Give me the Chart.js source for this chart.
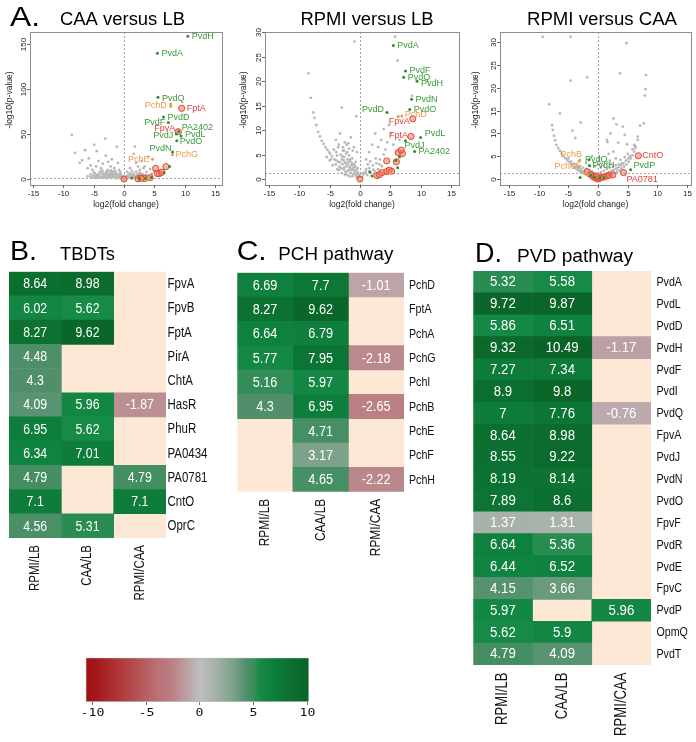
<!DOCTYPE html>
<html><head><meta charset="utf-8">
<script src="https://cdn.jsdelivr.net/npm/chart.js@4.4.1/dist/chart.umd.min.js"></script>
<style>
html,body{margin:0;padding:0;background:#fff;width:696px;height:742px;overflow:hidden;position:relative}
canvas{position:absolute}
</style></head><body>
<canvas id="v1" width="232" height="215" style="left:0;top:0"></canvas>
<canvas id="v2" width="232" height="215" style="left:232px;top:0"></canvas>
<canvas id="v3" width="232" height="215" style="left:464px;top:0"></canvas>
<canvas id="hB" width="225" height="400" style="left:0;top:230px"></canvas>
<canvas id="hC" width="235" height="400" style="left:225px;top:230px"></canvas>
<canvas id="hD" width="236" height="512" style="left:460px;top:230px"></canvas>
<canvas id="cb" width="280" height="100" style="left:60px;top:640px"></canvas>
<script>
// ================= DATA =================
// Volcano plots: [log2(fold change), -log10(p-value), optional label]
const xTicks = [-15, -10, -5, 0, 5, 10, 15];
const yTicksCaaLb = [0, 50, 100, 150];
const yTicksRpmiLb = [0, 5, 10, 15, 20, 25, 30];
const yTicksRpmiCaa = [0, 5, 10, 15, 20, 25, 30];
const sigLine = 1.3;

const caaLbGrey = [[-8.6,49],[-8.1,29],[-7.3,18],[-6.9,21],[-6.4,32],[-6.0,12],[-5.8,23],[-5.5,15],[-5.2,10],[-4.9,38],[-4.5,31],[-4.6,14],[-4.2,20],[-4.0,8],[-3.8,12],[-3.5,17],[-3.1,45],[-3.0,26],[-2.8,9],[-2.6,19],[-2.4,6],[-2.2,14],[-2.0,22],[-1.8,8],[-1.6,12],[-1.2,36],[-1.0,18],[-0.8,10],[-0.5,5],
[-6,3],[-5.5,2.5],[-5,4],[-4.6,3],[-4.3,5],[-4,2],[-3.8,6],[-3.5,3],[-3.2,4.5],[-3,2],[-2.8,6],[-2.6,3.5],[-2.4,1.5],[-2.2,4],[-2,2.5],[-1.9,7],[-1.7,3],[-1.5,1.5],[-1.4,5],[-1.2,2],[-1,3.5],[-0.8,1],[-0.6,2.5],[-0.4,0.8],[-0.2,1.5],[0.2,0.5],[0.4,2],[0.6,1],[0.8,3],[1,1.5],[1.2,4],[1.4,2],[1.6,6],[1.8,3],[2,1],[2.2,5],[2.4,2.5],[2.6,7],[2.8,3.5],[3,1.5],[3.2,4],[3.5,2],
[-3.6,1],[-3.3,1.8],[-2.9,0.8],[-2.5,2.8],[-2.1,1.2],[-1.8,4.5],[-1.3,0.7],[-0.9,2],[-0.3,3],[0.3,1.2],[0.7,4.5],[1.1,0.8],[1.5,3.2],[2.1,2.2],[2.7,1.2],[3.3,2.8],[3.8,3.5],[-5.2,1.5],[-4.8,6.5],[-4.4,1.2],[-3.9,8],[-3.4,7],[-2.7,10],[-2.3,8.5],[-1.5,9],[-0.7,6],[0.5,8],[1.0,12],[1.3,9],[1.6,28],[1.8,36],[2.0,18],[2.3,14],[2.6,10],[2.9,20],[3.2,12],[3.4,14],[3.7,8],[4.0,25],[4.3,11],[4.6,6],[5.0,9],
[-4.8,2],[-4.5,4.2],[-4.1,3.4],[-3.7,2.2],[-3.4,5.5],[-3.1,3.2],[-2.9,4.8],[-2.7,2.6],[-2.5,5],[-2.3,3],[-2.1,6],[-1.9,2],[-1.7,5.5],[-1.6,3.8],[-1.3,3],[-1.1,5],[-0.9,4],[-0.7,3.2],[-0.5,2],[-0.3,0.6],[0,0.3],[0.1,2.5],[0.5,3.5],[0.9,2.2],[1.3,5],[1.7,4],[2.3,3.8],[2.5,6],[3.1,5.5],[3.6,4.5],[-5.5,5],[-5,7],[-3.6,9.5],[-2.9,7.5],[-2.1,9.5],[-1.3,7],[-0.6,8],[0.9,6.5],[2.0,8],[2.8,5.5]];
const caaLbGreen = [[10.5,159,'PvdH'],[5.5,140,'PvdA'],[5.6,91,'PvdQ'],[6.5,69,'PvdD'],[7.3,63,'PvdF'],[8.6,50,'PvdJ'],[9.0,53,'PA2402'],[9.4,48,'PvdL'],[8.7,42.7,'PvdO'],[8.0,30,'PvdN'],[1.3,1],[3.5,0.5],[7.5,14],[6.6,7],[4.5,2],[2.5,0.5]];
const caaLbOrange = [[7.7,83.5,'PchD'],[7.7,81],[8.0,27,'PchG'],[4.7,22,'PchE'],[3,0.8],[4,1.2]];
const caaLbRed = [[9.5,78.7,'FptA'],[8.95,52.7,'FpvA'],[6.9,13.7],[5.2,11.9],[5.8,5.9],[5.5,6],[6.2,7.5],[3.4,0.5],[2.3,0.2],[0,0],[2.8,1],[4.3,1.5]];

const rpmiLbGrey = [[-8.5,21.6],[-8.1,16.6],[-7.7,13.6],[-7.5,12.5],[-7.2,11],[-6.9,9.6],[-6.6,8.7],[-6.3,7.8],[-6,7.2],[-5.7,6.5],[-5.4,6],[-5.1,5.5],[-4.9,5.2],[-4.6,4.6],[-3.0,14.6],[-3.3,9.3],[-0.6,12.8],[-0.9,28.1],[-1.9,7.3],[-4.0,8],[-3.6,6.5],[-2.6,5.8],[-2.2,7],[-1.5,8.5],[-1.0,6.5],[-0.5,5.5],
[-4.2,4],[-4,3],[-3.8,4.8],[-3.6,3.5],[-3.4,2.5],[-3.2,5],[-3,4],[-2.9,3],[-2.8,5.8],[-2.7,2],[-2.6,4.5],[-2.5,3.2],[-2.4,1.5],[-2.3,5.2],[-2.2,2.6],[-2.1,4],[-2,3],[-1.9,1.8],[-1.8,4.8],[-1.7,2.4],[-1.6,3.6],[-1.5,1.2],[-1.4,2.8],[-1.3,4.2],[-1.2,2],[-1.1,1],[-1,3],[-0.9,1.6],[-0.8,2.4],[-0.7,0.8],[-0.6,1.8],[-0.5,1],[-0.4,0.5],[-0.3,1.3],[-0.2,0.3],[-3.5,1.8],[-3,1.2],[-2.5,0.9],[-2,0.7],[-1.6,0.5],[-4.5,2.8],[-5,3.8],[-5.5,4.5],
[0.3,0.4],[0.6,0.9],[0.9,1.5],[1.2,0.8],[1.5,2.2],[1.8,1.2],[2.1,2.8],[2.4,1.6],[2.7,3.2],[3,2],[3.3,4],[3.6,2.6],[3.9,5],[2.5,9.3],[3.9,10.2],[5.1,9.3],[4.5,7.5],[4.2,6],[3,6.5],[5.5,7],[6,5.5],[6.5,8],[6.2,24.2],[5.8,29.1],[8.6,17],[1.0,4],[1.5,5.5],[2,7],[4.8,11],[3.5,8],
[-3.9,5.5],[-3.7,2],[-3.3,3.4],[-3.1,2.2],[-2.9,4.6],[-2.7,3.8],[-2.6,2.3],[-2.4,3.4],[-2.3,1],[-2.1,5.5],[-2,1.6],[-1.9,3.4],[-1.7,4],[-1.6,2.1],[-1.4,1.8],[-1.3,3.2],[-1.2,0.6],[-1.1,2.3],[-0.9,2.8],[-0.8,1.2],[-0.7,3.5],[-0.6,0.4],[-0.4,2.2],[-0.3,0.2],[-0.1,0.8],[-2.8,6.5],[-3.5,7],[-2.5,7.5],[-1.8,6.2],[-1.2,5.8],[-4.3,6],[-3.9,3.8],[-4.8,4],[1,2],[1.3,3],[2.2,1.9],[2.6,4.2],[1.7,3.6],[3.2,3],[0.5,1.2]];
const rpmiLbGreen = [[5.5,27.3,'PvdA'],[7.5,22.1,'PvdF'],[7.2,20.8,'PvdQ'],[9.4,20,'PvdH'],[8.5,16.3,'PvdN'],[8.2,14.2,'PvdO'],[4.45,13.6,'PvdD'],[10,8.5,'PvdL'],[7.5,7.8,'PvdJ'],[9.0,5.6,'PA2402'],[1.6,1.5],[6.2,2.3],[5.9,3.8],[2.0,0.6],[6.5,4.5]];
const rpmiLbOrange = [[6.9,12.9,'PchD'],[6.3,12.8],[5,1.2]];
const rpmiLbRed = [[8.7,12.3,'FpvA'],[8.4,8.7,'FptA'],[6.3,5.4],[7.0,5.2],[6.0,3.5],[4.4,3.7],[3.6,1.3],[4.4,1.5],[5.2,1.6],[2.8,0.7],[3.2,0.9],[4.8,1.8],[0,0],[6.8,5.9]];

const rpmiCaaGrey = [[-9.3,31.2],[-4.6,31.2],[4.8,29.8],[3.7,23.2],[8.1,22.8],[-4.6,21.6],[-1.8,22.3],[8.0,19.7],[7.9,18.3],[-8.2,16.4],[-6.4,14.4],[-7.7,11.8],[-7.6,10.8],[-4.3,10.6],[-2.9,12.4],[2.6,13.3],[3.1,12],[4.2,11.5],[7.1,11.7],[7.7,12.2],[2.1,10],[4.5,9.7],[1.5,8.6],[3.4,8.0],[1.6,8.1],[4.9,7.6],[6.7,9.3],[6.7,8.6],[6.3,7.2],[-3.8,9],[-7.4,9.5],[-7.2,8.5],[-7,7.5],[-6.7,6.8],[-6.4,6.2],[-6.1,5.6],[-5.8,5],[-5.5,4.6],[-5.2,4.2],[-4.9,3.8],[-4.6,3.4],
[-4.3,3],[-4,2.6],[-3.7,2.3],[-3.4,2],[-3.1,1.7],[-2.8,1.5],[-2.5,1.3],[-2.2,1.1],[-1.9,0.9],[-1.6,0.7],[-1.3,0.5],[-1,0.4],[-0.7,0.3],[-0.4,0.2],[0.4,0.2],[0.8,0.35],[1.2,0.5],[1.6,0.7],[2,0.9],[2.4,1.1],[2.8,1.3],[3.2,1.6],[3.6,1.9],[4,2.3],[4.4,2.7],[4.8,3.2],[5.2,3.8],[5.5,4.5],[5.8,5.2],[6.1,6],[6.3,6.8],[-3.5,3.2],[-3,2.8],[-2.5,2.5],[-2,2.2],[-1.5,1.9],[-1,1.6],[-0.5,1.3],[0,1.1],[0.5,1.5],[1,1.8],[1.5,2.2],[2,2.5],[2.5,2.7],[3,3],[3.5,3.2],[4,3.5],[1,3],[2,4],[3,4.5],[0.5,2.5],[-0.5,2.8],[-2,3.5],[-3,4.2],[4.5,4.8],[5,5.5],[0.2,4.5],[1.8,5.5],[-1,5],[2.6,6],[5.8,6.5],[6.1,7.5],
[-5,4.5],[-4.5,3.8],[-4,3.3],[-3.6,2.8],[-3.3,2.4],[-2.9,2.1],[-2.6,1.8],[-2.3,1.6],[-1.9,1.4],[-1.6,1.2],[-1.2,1.0],[-0.9,0.8],[-0.6,0.6],[-0.3,0.5],[0.3,0.6],[0.7,0.8],[1.1,1.0],[1.5,1.3],[1.9,1.5],[2.3,1.8],[2.7,2],[3.1,2.3],[3.5,2.6],[3.9,3],[4.3,3.4],[4.7,4],[5.1,4.5],[5.4,5],[-1.5,3],[0.5,3.5],[2.2,3.3],[3.8,4.2]];
const rpmiCaaGreen = [[-1.5,4.2,'PvdQ'],[-1.4,2.9,'PvdH'],[5.5,2.0,'PvdP'],[-3,0.3],[-1.2,0.8],[-0.6,0.4],[0.3,0.2],[1.0,0.3]];
const rpmiCaaOrange = [[-3.2,3.9,'PchB'],[-3.2,2.7,'PchG'],[-2.2,1.2],[-1.7,0.9]];
const rpmiCaaRed = [[6.8,5.1,'CntO'],[4.3,1.4,'PA0781'],[-1.2,1.0],[-0.8,0.5],[-0.4,0.2],[0,0],[0.2,0.1],[0.5,0.3],[0.9,0.4],[1.4,0.6],[1.9,0.8],[2.5,0.9],[-1.8,1.6],[-0.2,0.6]];

// Heatmaps: log2 fold change
const comparisons = ['RPMI/LB', 'CAA/LB', 'RPMI/CAA'];

const tbdtGenes = ['FpvA','FpvB','FptA','PirA','ChtA','HasR','PhuR','PA0434','PA0781','CntO','OprC'];
const tbdtRpmiLb = [8.64, 6.02, 8.27, 4.48, 4.3, 4.09, 6.95, 6.34, 4.79, 7.1, 4.56];
const tbdtCaaLb  = [8.98, 5.62, 9.62, null, null, 5.96, 5.62, 7.01, null, null, 5.31];
const tbdtRpmiCaa = [null, null, null, null, null, -1.87, null, null, 4.79, 7.1, null];

const pchGenes = ['PchD','FptA','PchA','PchG','PchI','PchB','PchE','PchF','PchH'];
const pchRpmiLb = [6.69, 8.27, 6.64, 5.77, 5.16, 4.3, null, null, null];
const pchCaaLb  = [7.7, 9.62, 6.79, 7.95, 5.97, 6.95, 4.71, 3.17, 4.65];
const pchRpmiCaa = [-1.01, null, null, -2.18, null, -2.65, null, null, -2.22];

const pvdGenes = ['PvdA','PvdL','PvdD','PvdH','PvdF','PvdI','PvdQ','FpvA','PvdJ','PvdN','PvdO','FpvF','PvdR','PvdE','FpvC','PvdP','OpmQ','PvdT'];
const pvdRpmiLb = [5.32, 9.72, 5.86, 9.32, 7.27, 8.9, 7, 8.64, 8.55, 8.19, 7.89, 1.37, 6.64, 6.44, 4.15, 5.97, 5.62, 4.79];
const pvdCaaLb  = [5.58, 9.87, 6.51, 10.49, 7.34, 9.8, 7.76, 8.98, 9.22, 8.14, 8.6, 1.31, 5.36, 6.52, 3.66, null, 5.9, 4.09];
const pvdRpmiCaa = [null, null, null, -1.17, null, null, -0.76, null, null, null, null, null, null, null, null, 5.96, null, null];

const colorbarRange = [-10.6, 10.2];
const colorbarTicks = [-10, -5, 0, 5, 10];

// ================= STYLE / HELPERS =================
Chart.defaults.animation = false;
const SANS = '"Liberation Sans", Arial, Helvetica, sans-serif';
const NARROW_FAM = '"Liberation Sans Narrow", "Arial Narrow", sans-serif';
const HAS_NARROW = (() => {
  const c = document.createElement('canvas').getContext('2d');
  const s = 'PvdA 8.64 RPMI/LB';
  c.font = '20px "Liberation Sans Narrow", monospace'; const a = c.measureText(s).width;
  c.font = '20px monospace'; const b = c.measureText(s).width;
  c.font = '20px "Liberation Sans Narrow", serif'; const d = c.measureText(s).width;
  c.font = '20px serif'; const e = c.measureText(s).width;
  return Math.abs(a - b) > 0.5 && Math.abs(d - e) > 0.5;
})();

function txt(ctx, s, x, y, o) {
  ctx.save();
  ctx.translate(x, y);
  if (o.rot) ctx.rotate(o.rot);
  let sx = o.sx || 1;
  let fam = SANS;
  if (o.narrow) { if (HAS_NARROW) fam = NARROW_FAM; else sx *= 0.82; }
  ctx.font = o.size + 'px ' + fam;
  if (o.width) sx = o.width / ctx.measureText(s).width;
  ctx.scale(sx, 1);
  ctx.textAlign = o.align || 'left';
  ctx.textBaseline = o.base || 'alphabetic';
  ctx.fillStyle = o.color || '#000';
  ctx.fillText(s, 0, 0);
  ctx.restore();
}

const STOPS = [
  [-10, [163, 18, 22]], [-7, [178, 62, 64]], [-4, [186, 112, 116]], [-2.5, [186, 130, 134]],
  [-1, [188, 164, 167]], [0, [190, 190, 190]], [1.4, [168, 178, 170]], [3.2, [123, 162, 137]],
  [4.3, [81, 143, 107]], [5.0, [62, 142, 94]], [5.6, [22, 138, 71]], [6.5, [15, 130, 63]],
  [8, [12, 116, 52]], [10, [10, 100, 40]]
];
function colorFor(v) {
  if (v <= STOPS[0][0]) return 'rgb(' + STOPS[0][1].join(',') + ')';
  for (let i = 1; i < STOPS.length; i++) {
    if (v <= STOPS[i][0]) {
      const [v0, c0] = STOPS[i - 1], [v1, c1] = STOPS[i];
      const t = (v - v0) / (v1 - v0);
      return 'rgb(' + c0.map((c, k) => Math.round(c + (c1[k] - c) * t)).join(',') + ')';
    }
  }
  return 'rgb(' + STOPS[STOPS.length - 1][1].join(',') + ')';
}

const GREY = '#b9b9b9', GREEN = '#2f8f2f', ORANGE = '#ee9a48', RED_FILL = 'rgba(240,120,100,0.55)', RED_LINE = '#e4462f';
const LABEL_COL = { green: '#3a9a3a', orange: '#ef9a48', red: '#e23c3c' };

function toXY(arr) { return arr.map(p => ({ x: p[0], y: p[1], name: p[2] })); }

function volcanoPlugin(cfg) {
  return {
    id: 'volc',
    beforeDatasetsDraw(chart) {
      const { ctx, chartArea: a, scales: { x, y } } = chart;
      ctx.save();
      ctx.strokeStyle = '#8a8a8a'; ctx.lineWidth = 0.8; ctx.setLineDash([2, 2]);
      const px = Math.round(x.getPixelForValue(0)) + 0.5;
      ctx.beginPath(); ctx.moveTo(px, a.top); ctx.lineTo(px, a.bottom); ctx.stroke();
      const py = Math.round(y.getPixelForValue(sigLine)) + 0.5;
      ctx.beginPath(); ctx.moveTo(a.left, py); ctx.lineTo(a.right, py); ctx.stroke();
      ctx.restore();
    },
    afterDatasetsDraw(chart) {
      const { ctx } = chart;
      chart.data.datasets.forEach((ds, i) => {
        if (!ds.labelColor) return;
        const meta = chart.getDatasetMeta(i);
        meta.data.forEach((el, k) => {
          const d = ds.data[k];
          if (!d.name) return;
          const pl = cfg.place[d.name] || { a: 'left', dx: 4, dy: 0 };
          txt(ctx, d.name, el.x + pl.dx, el.y + pl.dy, { size: 9, align: pl.a, base: 'middle', color: ds.labelColor });
        });
      });
    },
    afterDraw(chart) {
      const { ctx, chartArea: a, scales: { x, y } } = chart;
      ctx.save();
      ctx.strokeStyle = '#8c8c8c'; ctx.lineWidth = 1;
      ctx.strokeRect(Math.round(a.left) + 0.5, Math.round(a.top) + 0.5, Math.round(a.right - a.left), Math.round(a.bottom - a.top));
      ctx.strokeStyle = '#666';
      xTicks.forEach(v => {
        const px = Math.round(x.getPixelForValue(v)) + 0.5;
        ctx.beginPath(); ctx.moveTo(px, a.bottom); ctx.lineTo(px, a.bottom + 3); ctx.stroke();
        txt(ctx, String(v), px, a.bottom + 8.5, { size: 8, align: 'center', base: 'middle', color: '#222' });
      });
      cfg.yticks.forEach(v => {
        const py = Math.round(y.getPixelForValue(v)) + 0.5;
        ctx.beginPath(); ctx.moveTo(a.left - 3, py); ctx.lineTo(a.left, py); ctx.stroke();
        txt(ctx, String(v), a.left - 4.5, py, { size: 8, align: 'center', base: 'alphabetic', rot: -Math.PI / 2, color: '#222' });
      });
      ctx.restore();
      txt(ctx, 'log2(fold change)', (a.left + a.right) / 2, 205, { size: 8.5, align: 'center', base: 'middle', color: '#222' });
      txt(ctx, '-log10(p-value)', cfg.ylabX, 100, { size: 8.5, align: 'center', base: 'middle', rot: -Math.PI / 2, color: '#222' });
      txt(ctx, cfg.title, cfg.titleX, 25, { size: 18, align: 'center', width: cfg.titleW });
      if (cfg.letter) txt(ctx, cfg.letter, 10, 25.5, { size: 28, align: 'left', width: 30 });
    }
  };
}

function volcano(id, cfg) {
  new Chart(document.getElementById(id), {
    type: 'scatter',
    data: {
      datasets: [
        { data: toXY(cfg.grey), pointRadius: 1.4, backgroundColor: GREY, borderWidth: 0, order: 4 },
        { data: toXY(cfg.red), pointRadius: 3.1, backgroundColor: RED_FILL, borderColor: RED_LINE, borderWidth: 1, order: 3, labelColor: LABEL_COL.red },
        { data: toXY(cfg.orange), pointRadius: 1.5, backgroundColor: ORANGE, borderWidth: 0, order: 2, labelColor: LABEL_COL.orange },
        { data: toXY(cfg.green), pointRadius: 1.5, backgroundColor: GREEN, borderWidth: 0, order: 1, labelColor: LABEL_COL.green }
      ]
    },
    options: {
      responsive: false, animation: false, events: [],
      layout: { padding: cfg.pad },
      plugins: { legend: { display: false }, tooltip: { enabled: false } },
      scales: {
        x: { type: 'linear', display: false, min: cfg.xr[0], max: cfg.xr[1] },
        y: { type: 'linear', display: false, min: cfg.yr[0], max: cfg.yr[1] }
      }
    },
    plugins: [volcanoPlugin(cfg)]
  });
}

volcano('v1', {
  grey: caaLbGrey, green: caaLbGreen, orange: caaLbOrange, red: caaLbRed,
  pad: { left: 30, top: 32, right: 10, bottom: 30 }, xr: [-15.49, 16.14], yr: [-6.7, 163.7],
  yticks: yTicksCaaLb, ylabX: 10, title: 'CAA versus LB', titleX: 122.5, titleW: 125, letter: 'A.',
  place: {
    PvdH: { a: 'left', dx: 4, dy: 0 }, PvdA: { a: 'left', dx: 4, dy: 0 }, PvdQ: { a: 'left', dx: 4, dy: 1 },
    PchD: { a: 'right', dx: -4, dy: 2 }, FptA: { a: 'left', dx: 5, dy: 0 }, PvdD: { a: 'left', dx: 4, dy: 0 },
    PvdF: { a: 'right', dx: -3, dy: 0 }, FpvA: { a: 'right', dx: -3, dy: -3 }, PvdJ: { a: 'right', dx: -3, dy: 1.5 },
    PA2402: { a: 'left', dx: 3, dy: -4 }, PvdL: { a: 'left', dx: 4, dy: -1 }, PvdO: { a: 'left', dx: 3, dy: 1 },
    PvdN: { a: 'right', dx: -1, dy: -4 }, PchG: { a: 'left', dx: 3, dy: 0 }, PchE: { a: 'right', dx: -3, dy: 0 }
  }
});
volcano('v2', {
  grey: rpmiLbGrey, green: rpmiLbGreen, orange: rpmiLbOrange, red: rpmiLbRed,
  pad: { left: 33, top: 32, right: 5, bottom: 30 }, xr: [-15.66, 16.32], yr: [-1.23, 30.06],
  yticks: yTicksRpmiLb, ylabX: 12, title: 'RPMI versus LB', titleX: 135, titleW: 133,
  place: {
    PvdA: { a: 'left', dx: 4, dy: 0 }, PvdF: { a: 'left', dx: 4, dy: 0 }, PvdQ: { a: 'left', dx: 4, dy: 0 },
    PvdH: { a: 'left', dx: 4, dy: 2 }, PvdN: { a: 'left', dx: 4, dy: 0 }, PvdO: { a: 'left', dx: 4, dy: 0 },
    PvdD: { a: 'right', dx: -3, dy: -3 }, PchD: { a: 'left', dx: 3, dy: -1 }, FpvA: { a: 'right', dx: -3, dy: 3 },
    FptA: { a: 'right', dx: -3, dy: -1 }, PvdL: { a: 'left', dx: 4, dy: -4 }, PvdJ: { a: 'left', dx: -1, dy: 5 },
    PA2402: { a: 'left', dx: 4, dy: 0 }
  }
});
volcano('v3', {
  grey: rpmiCaaGrey, green: rpmiCaaGreen, orange: rpmiCaaOrange, red: rpmiCaaRed,
  pad: { left: 36, top: 32, right: 1, bottom: 30 }, xr: [-16.48, 15.66], yr: [-1.32, 32.26],
  yticks: yTicksRpmiCaa, ylabX: 12, title: 'RPMI versus CAA', titleX: 138, titleW: 150,
  place: {
    PchB: { a: 'right', dx: 3, dy: -7 }, PvdQ: { a: 'left', dx: -4, dy: 0 }, PvdH: { a: 'left', dx: 3, dy: 0 },
    PchG: { a: 'right', dx: -2, dy: 0 }, PvdP: { a: 'left', dx: 3, dy: -4 }, CntO: { a: 'left', dx: 4, dy: 0 },
    PA0781: { a: 'left', dx: 3, dy: 7 }
  }
});

// ---------- heatmaps ----------
const PEACH = '#fde8d5';
function heatPlugin(cfg) {
  return {
    id: 'heat',
    beforeDatasetsDraw(chart) {
      const { ctx, chartArea: a } = chart;
      ctx.save(); ctx.fillStyle = PEACH; ctx.fillRect(a.left, a.top, a.right - a.left, a.bottom - a.top); ctx.restore();
    },
    afterDatasetsDraw(chart) {
      const { ctx, chartArea: a, scales: { x, y } } = chart;
      chart.data.datasets.forEach((ds, j) => {
        const meta = chart.getDatasetMeta(j);
        meta.data.forEach((el, k) => {
          const v = ds.values[k];
          if (v == null) return;
          const c = el.getCenterPoint();
          txt(ctx, String(v), c.x, c.y + 0.5, { size: cfg.cellSize, sx: cfg.cellSx, narrow: true, align: 'center', base: 'middle', color: '#fff' });
        });
      });
      chart.data.labels.forEach((g, i) => {
        txt(ctx, g, a.right + cfg.geneGap, y.getPixelForValue(i) + 0.5, { size: cfg.geneSize, narrow: true, align: 'left', base: 'middle', color: '#111' });
      });
      comparisons.forEach((c, j) => {
        txt(ctx, c, x.getPixelForValue(j + 0.5), a.bottom + cfg.colGap, { size: cfg.colSize, narrow: true, align: 'right', base: 'middle', rot: -Math.PI / 2, color: '#111' });
      });
      txt(ctx, cfg.letter, cfg.letterX, cfg.baseY, { size: 28, align: 'left', width: cfg.letterW });
      txt(ctx, cfg.title, cfg.titleX, cfg.baseY, { size: 18, align: 'left', width: cfg.titleW });
    }
  };
}
function heatmap(id, genes, cols, cfg) {
  const datasets = cols.map((vals, j) => ({
    data: vals.map(v => v == null ? null : [j, j + 1]),
    values: vals,
    backgroundColor: vals.map(v => v == null ? 'rgba(0,0,0,0)' : colorFor(v)),
    borderWidth: 0, barPercentage: 1, categoryPercentage: 1, grouped: false
  }));
  new Chart(document.getElementById(id), {
    type: 'bar',
    data: { labels: genes, datasets },
    options: {
      indexAxis: 'y', responsive: false, animation: false, events: [],
      layout: { padding: cfg.pad },
      plugins: { legend: { display: false }, tooltip: { enabled: false } },
      scales: {
        x: { type: 'linear', min: 0, max: 3, display: false },
        y: { type: 'category', display: false }
      }
    },
    plugins: [heatPlugin(cfg)]
  });
}
heatmap('hB', tbdtGenes, [tbdtRpmiLb, tbdtCaaLb, tbdtRpmiCaa], {
  pad: { left: 9, top: 41.7, right: 59, bottom: 92 },
  cellSize: 15, cellSx: 1, geneSize: 14, geneGap: 1.5, colSize: 14, colGap: 7,
  letter: 'B.', letterX: 10, letterW: 27, title: 'TBDTs', titleX: 60, titleW: 55, baseY: 30
});
heatmap('hC', pchGenes, [pchRpmiLb, pchCaaLb, pchRpmiCaa], {
  pad: { left: 12.3, top: 42.7, right: 56, bottom: 138.3 },
  cellSize: 15, cellSx: 1.03, geneSize: 13, geneGap: 5, colSize: 14.5, colGap: 7,
  letter: 'C.', letterX: 11.7, letterW: 30, title: 'PCH pathway', titleX: 53.3, titleW: 115, baseY: 30
});
heatmap('hD', pvdGenes, [pvdRpmiLb, pvdCaaLb, pvdRpmiCaa], {
  pad: { left: 13.3, top: 41, right: 45, bottom: 77 },
  cellSize: 14, cellSx: 1.15, geneSize: 13, geneGap: 5.5, colSize: 16, colGap: 7.5,
  letter: 'D.', letterX: 15, letterW: 27, title: 'PVD pathway', titleX: 57, titleW: 116, baseY: 31.5
});

// ---------- colour key ----------
new Chart(document.getElementById('cb'), {
  type: 'bar',
  data: {
    labels: [''],
    datasets: [{
      data: [colorbarRange],
      backgroundColor: (c) => {
        const ch = c.chart;
        if (!ch.chartArea) return '#ccc';
        const xs = ch.scales.x;
        const [lo, hi] = colorbarRange;
        const g = ch.ctx.createLinearGradient(xs.getPixelForValue(lo), 0, xs.getPixelForValue(hi), 0);
        for (let i = 0; i <= 60; i++) { const v = lo + (hi - lo) * i / 60; g.addColorStop(i / 60, colorFor(v)); }
        return g;
      },
      borderWidth: 1, borderColor: 'rgba(150,150,150,0.6)', borderSkipped: false,
      barPercentage: 1, categoryPercentage: 1
    }]
  },
  options: {
    indexAxis: 'y', responsive: false, animation: false, events: [],
    layout: { padding: { left: 25.7, right: 31, top: 17.7, bottom: 38 } },
    plugins: { legend: { display: false }, tooltip: { enabled: false } },
    scales: {
      x: { type: 'linear', min: colorbarRange[0], max: colorbarRange[1], display: false },
      y: { type: 'category', display: false }
    }
  },
  plugins: [{
    id: 'cbaxis',
    afterDraw(chart) {
      const { ctx, chartArea: a, scales: { x } } = chart;
      ctx.save(); ctx.strokeStyle = '#777'; ctx.lineWidth = 1;
      colorbarTicks.forEach(v => {
        const px = Math.round(x.getPixelForValue(v)) + 0.5;
        ctx.beginPath(); ctx.moveTo(px, a.bottom); ctx.lineTo(px, a.bottom + 3); ctx.stroke();
        ctx.save(); ctx.translate(px, a.bottom + 11); ctx.scale(1.2, 1);
        ctx.font = '11px "DejaVu Sans Mono", monospace'; ctx.textAlign = 'center'; ctx.textBaseline = 'middle'; ctx.fillStyle = '#111';
        ctx.fillText(String(v), 0, 0); ctx.restore();
      });
      ctx.restore();
    }
  }]
});
</script>
</body></html>
